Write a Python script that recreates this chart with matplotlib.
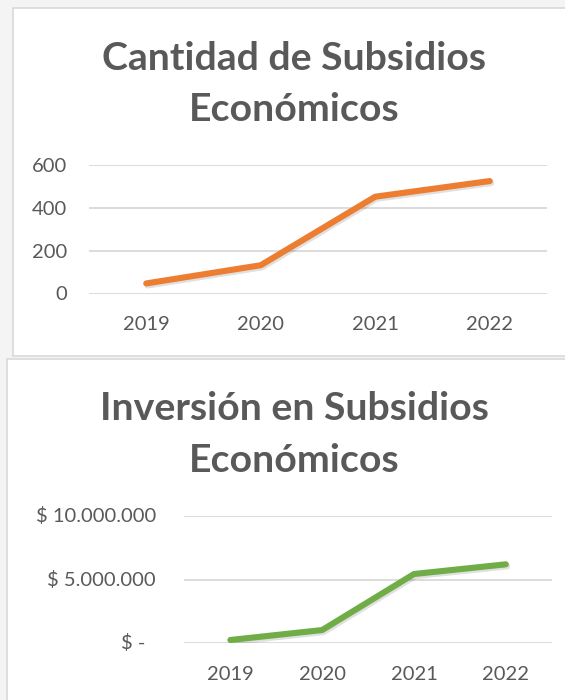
import matplotlib
matplotlib.use('Agg')
import matplotlib.pyplot as plt
import matplotlib.patheffects as pe
from matplotlib.patches import Rectangle
from matplotlib.transforms import offset_copy

# data
years = ['2019', '2020', '2021', '2022']
cantidad = [47, 132, 452, 525]
inversion = [260000, 1040000, 5430000, 6190000]

cant_ticks = [0, 200, 400, 600]
inv_ticks = [0, 5000000, 10000000]
inv_labels = ['$ -', '$ 5.000.000', '$ 10.000.000']

W, H = 565, 700
TXT = '#595959'
GRID = '#d9d9d9'
plt.rcParams['font.family'] = ['Lato', 'DejaVu Sans']

fig = plt.figure(figsize=(W / 100, H / 100), dpi=100, facecolor='#f4f4f4')


def px_rect(x0, y0, x1, y1):
	# pixel box (top-left origin) -> figure fraction [l, b, w, h]
	return [x0 / W, 1 - y1 / H, (x1 - x0) / W, (y1 - y0) / H]


def panel(x0, y0, x1, y1):
	r = Rectangle((x0 / W, 1 - y1 / H), (x1 - x0) / W, (y1 - y0) / H,
				  transform=fig.transFigure, facecolor='white', edgecolor=GRID,
				  linewidth=1.2, zorder=-10)
	fig.patches.append(r)


def style_axes(ax, ymax, ticks):
	ax.set_xlim(-0.5, 3.5)
	ax.set_ylim(0, ymax)
	ax.set_facecolor('none')
	for s in ax.spines.values():
		s.set_visible(False)
	ax.set_yticks(ticks)
	ax.grid(axis='y', color=GRID, linewidth=1.3)
	ax.set_axisbelow(True)
	ax.set_xticks(range(len(years)))
	ax.set_xticklabels(years)
	ax.tick_params(length=0, labelsize=14.5, labelcolor=TXT, pad=16)


def draw_line(ax, vals, color):
	ax.plot(range(len(vals)), vals, color=color, linewidth=4.4,
			solid_capstyle='round', solid_joinstyle='round',
			path_effects=[pe.SimpleLineShadow(offset=(1.0, -1.5), shadow_color='k', alpha=0.12),
						  pe.Normal()])


def title(lines, baselines):
	for txt, yb in zip(lines, baselines):
		fig.text(294 / W, 1 - yb / H, txt, ha='center', va='baseline',
				 fontsize=28.3, fontweight='bold', color=TXT)


# top panel: cantidad
panel(12.5, 7.5, 590, 356)
title(['Cantidad de Subsidios', 'Económicos'], [69.5, 121])
ax1 = fig.add_axes(px_rect(89, 165, 547, 293.5), zorder=1)
style_axes(ax1, 600, cant_ticks)
draw_line(ax1, cantidad, '#ED7D31')

# bottom panel: inversion
panel(6.5, 359, 590, 720)
title(['Inversión en Subsidios', 'Económicos'], [420, 472])
ax2 = fig.add_axes(px_rect(184.5, 515.7, 551.7, 643.3), zorder=1)
style_axes(ax2, 10000000, inv_ticks)
ax2.set_yticklabels([])
# accounting-style labels, the dash one sits further left
for v, lab in zip(inv_ticks, inv_labels):
	shift = 39.3 if lab == '$ -' else 28.6
	tr = offset_copy(ax2.get_yaxis_transform(), fig=fig, x=-shift, y=0, units='dots')
	ax2.text(0, v, lab, transform=tr, ha='right', va='center', fontsize=14.5, color=TXT)
draw_line(ax2, inversion, '#70AD47')

fig.savefig('out.png', dpi=100, facecolor=fig.get_facecolor())
